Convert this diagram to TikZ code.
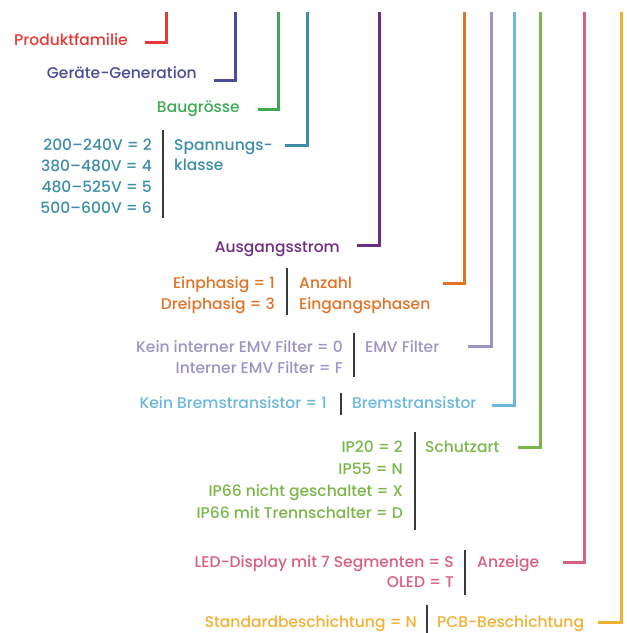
\documentclass[tikz,border=0pt]{standalone}
\usepackage{fontspec}
\setmainfont{Poppins}[UprightFont=* Medium]
\definecolor{prodred}{HTML}{E53A35}
\definecolor{genblue}{HTML}{4A4C98}
\definecolor{sizegreen}{HTML}{3DAA52}
\definecolor{voltteal}{HTML}{3C8EA8}
\definecolor{curpurple}{HTML}{6F2D80}
\definecolor{phaseorange}{HTML}{E27326}
\definecolor{emvlilac}{HTML}{9A95C4}
\definecolor{brakeblue}{HTML}{6BB7DD}
\definecolor{ipgreen}{HTML}{7BB649}
\definecolor{disppink}{HTML}{D8607E}
\definecolor{pcbyellow}{HTML}{F2B033}
\definecolor{bargray}{HTML}{3A3A3A}
\tikzset{
  conn/.style={line width=3pt},
  sepbar/.style={line width=1.6pt, bargray},
  lbl/.style={inner sep=0pt, font=\fontsize{15.5}{19}\selectfont},
  val/.style={lbl, anchor=base east},
  key/.style={lbl, anchor=base west},
}
\begin{document}
\begin{tikzpicture}[x=1pt,y=-1pt]
  \useasboundingbox (0,0) rectangle (627,633);

  % simple fields
  \node[val, prodred] (prod) at (128,45) {Produktfamilie};
  \node[val, genblue] (gen) at (197,78) {Geräte-Generation};
  \node[val, sizegreen] (size) at (240,112) {Baugrösse};
  \node[val, curpurple] (cur) at (340,252) {Ausgangsstrom};

  % Spannungsklasse
  \foreach \txt [count=\i] in {200--240V = 2, 380--480V = 4, 480--525V = 5, 500--600V = 6}
    \node[val, voltteal] (volt\i) at (152,129+21*\i) {\txt};
  \node[key, voltteal] (voltA) at (174,150) {Spannungs-};
  \node[key, voltteal] (voltB) at (174,170) {klasse};
  \draw[sepbar] (163,130) -- (163,218);

  % Eingangsphasen
  \node[val, phaseorange] (ph1) at (275,288) {Einphasig = 1};
  \node[val, phaseorange] (ph2) at (275,309) {Dreiphasig = 3};
  \node[key, phaseorange] (phA) at (299,288) {Anzahl};
  \node[key, phaseorange] (phB) at (299,309) {Eingangsphasen};
  \draw[sepbar] (287,268) -- (287,315);

  % EMV Filter
  \node[val, emvlilac] (emv1) at (343,352) {Kein interner EMV Filter = 0};
  \node[val, emvlilac] (emv2) at (343,373) {Interner EMV Filter = F};
  \node[key, emvlilac] (emvA) at (365,352) {EMV Filter};
  \draw[sepbar] (354,333) -- (354,377);

  % Bremstransistor
  \node[val, brakeblue] (brk1) at (327,408) {Kein Bremstransistor = 1};
  \node[key, brakeblue] (brkA) at (352,408) {Bremstransistor};
  \draw[sepbar] (341,393) -- (341,415);

  % Schutzart
  \foreach \txt [count=\i] in {IP20 = 2, IP55 = N, IP66 nicht geschaltet = X, IP66 mit Trennschalter = D}
    \node[val, ipgreen] (ip\i) at (403,430+22*\i) {\txt};
  \node[key, ipgreen] (ipA) at (425,452) {Schutzart};
  \draw[sepbar] (415,432) -- (415,530);

  % Anzeige
  \node[val, disppink] (disp1) at (454,567) {LED-Display mit 7 Segmenten = S};
  \node[val, disppink] (disp2) at (454,587) {OLED = T};
  \node[key, disppink] (dispA) at (477,567) {Anzeige};
  \draw[sepbar] (465,550) -- (465,595);

  % PCB-Beschichtung
  \node[val, pcbyellow] (pcb1) at (417,627) {Standardbeschichtung = N};
  \node[key, pcbyellow] (pcbA) at (437,627) {PCB-Beschichtung};
  \draw[sepbar] (427,605) -- (427,633);

  % connectors from the code positions down to the fields
  \foreach \name/\x/\y/\xe/\col in {prod/166/42/145/prodred, gen/235/80/214/genblue,
      size/278/109/258/sizegreen, volt/307/145/285/voltteal, cur/379/245/357/curpurple,
      ph/464/283/443/phaseorange, emv/491/346/468/emvlilac, brk/514/405/492/brakeblue,
      ip/540/447/518/ipgreen, disp/584/562/563/disppink, pcb/621/622/598/pcbyellow} {
    \coordinate (\name Top) at (\x,12);
    \coordinate (\name End) at (\xe,\y);
    \draw[conn, \col] (\name Top) |- (\name End);
  }
\end{tikzpicture}
\end{document}
